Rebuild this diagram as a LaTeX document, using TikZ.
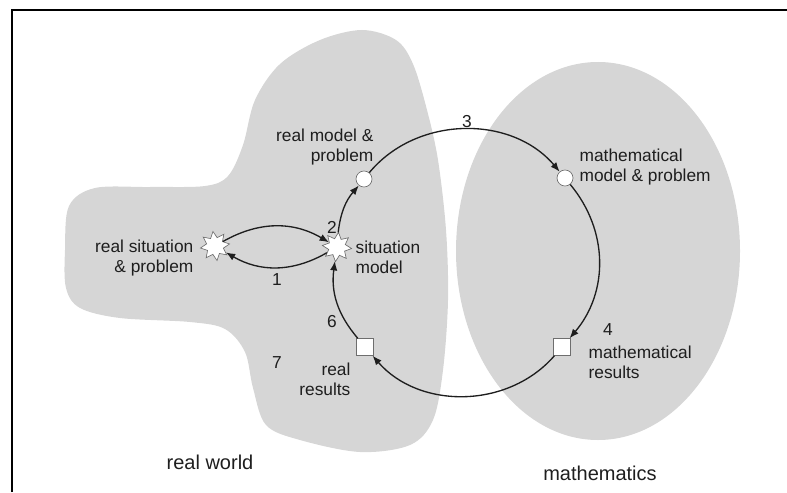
\documentclass[tikz,border=0pt]{standalone}
\usepackage{fontspec}
\setmainfont{Liberation Sans}
\usetikzlibrary{arrows.meta,shapes.geometric}
\definecolor{regiongray}{RGB}{214,214,214}
\definecolor{edgegray}{RGB}{110,110,110}
\definecolor{inkgray}{RGB}{30,30,30}
\begin{document}
\begin{tikzpicture}[x=0.75pt,y=-0.75pt,
  region/.style={fill=regiongray,draw=none},
  burst/.style={star,star points=8,star point ratio=1.7,minimum size=22pt,inner sep=0pt,fill=white,draw=edgegray,line width=0.5pt},
  dot/.style={circle,minimum size=12pt,inner sep=0pt,fill=white,draw=edgegray,line width=0.5pt},
  box/.style={rectangle,minimum size=12.5pt,inner sep=0pt,fill=white,draw=edgegray,line width=0.6pt},
  lbl/.style={font=\fontsize{13}{15}\selectfont,text=inkgray,inner sep=1pt},
  big/.style={font=\fontsize{15}{18}\selectfont,text=inkgray},
  arr/.style={line width=1pt,draw=inkgray,-{Latex[length=7pt,width=5.5pt]}},
]
\useasboundingbox (0,0) rectangle (787,492);
% frame
\draw[line width=2.2pt] (12,492) -- (12,10) -- (790,10);
% real world region
\fill[region] plot[smooth cycle, tension=0.55] coordinates {
 (65,250) (69,206) (95,188) (150,187) (205,186) (228,176) (243,145)
 (255,100) (280,64) (320,40) (362,30) (396,40) (413,64) (427,110)
 (438,160) (446,230) (448,300) (443,370) (433,420) (410,445) (360,452)
 (300,440) (266,425) (253,388) (245,352) (225,329) (190,322) (120,318)
 (80,308) (66,288)};
% mathematics region
\fill[region] (598,251) ellipse [x radius=142, y radius=189];
% nodes
\node[burst,rotate=8] (s1) at (215,246) {};
\node[burst,rotate=-6] (s2) at (337,247) {};
\node[dot] (c1) at (364,179) {};
\node[dot] (c2) at (565,178) {};
\node[box] (msq) at (562,347) {};
\node[box] (rsq) at (365,347) {};
% labels
\node[lbl,anchor=east,align=right] (lrs) at (195,258) {real situation\\\& problem};
\node[lbl,anchor=west,align=left] (lsm) at (354,257) {situation\\model};
\node[lbl,anchor=east,align=right] (lrm) at (375,147) {real model \&\\problem};
\node[lbl,anchor=west,align=left] (lmm) at (578,167) {mathematical\\model \& problem};
\node[lbl,anchor=west,align=left] (lmr) at (587,362) {mathematical\\results};
\node[lbl,anchor=east,align=right] (lrr) at (352,379) {real\\results};
\node[lbl] (n1) at (277,280) {1};
\node[lbl] (n2) at (332,227) {2};
\node[lbl] (n3) at (467,122) {3};
\node[lbl] (n4) at (608,330) {4};
\node[lbl] (n6) at (332,322) {6};
\node[lbl] (n7) at (277,363) {7};
\node[big] (rw) at (210,462) {real world};
\node[big] (mm) at (600,473) {mathematics};
% connectors
\draw[arr] (s1) to[bend left=30] (s2);
\draw[arr] (s2) to[bend left=30] (s1);
\draw[arr] (s2) to[bend left=17] (c1);
\draw[arr] (c1) to[bend left=50] (c2);
\draw[arr] (c2) to[bend left=40] (msq);
\draw[arr] (msq) to[bend left=49] (rsq);
\draw[arr] (rsq) to[bend left=24] (s2);
\end{tikzpicture}
\end{document}
